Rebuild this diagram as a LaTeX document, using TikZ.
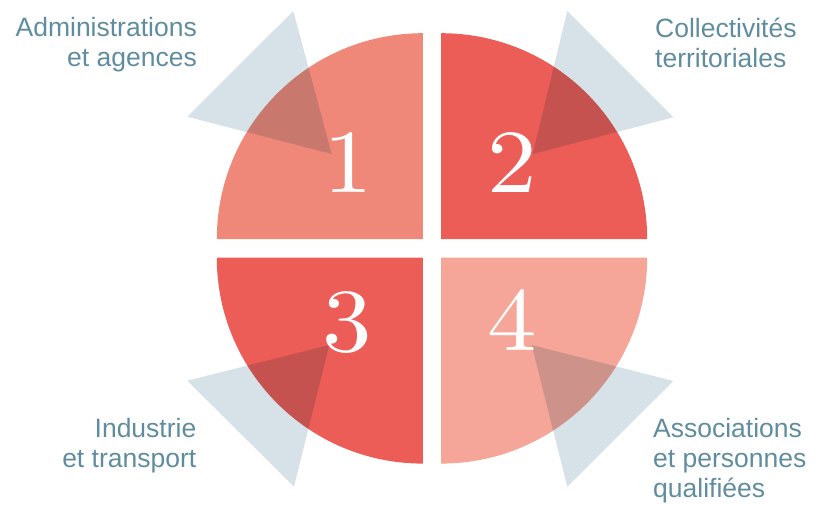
\documentclass[tikz,border=0pt]{standalone}
\usepackage{fontspec}
\newfontfamily\labelfont{Liberation Sans}
\newfontfamily\numfont{lmroman10-regular}[Extension=.otf, FakeStretch=1.1]
\definecolor{salmon}{HTML}{F0887A}
\definecolor{coral}{HTML}{EC5D57}
\definecolor{blush}{HTML}{F5A698}
\definecolor{wedgeblue}{HTML}{D6E1E8}
\definecolor{labelteal}{HTML}{5F8D9F}
\begin{document}
\begin{tikzpicture}[x=1pt,y=1pt,
  wedge/.style={fill=wedgeblue},
  numeral/.style={text=white, font=\numfont\fontsize{90}{90}\selectfont, inner sep=0pt, anchor=base},
  caption/.style={text=labelteal, font=\labelfont\fontsize{26.5}{30}\selectfont, inner sep=0pt}]
\useasboundingbox (0,0) rectangle (814,504);
\coordinate (c) at (432,255.6);

% four quarter discs, separated by a white cross
\fill[salmon] (422.8,264.8) -- ++(-206,0) arc[start angle=180, end angle=90, radius=206] -- cycle;
\fill[coral]  (441.2,264.8) -- ++(206,0)  arc[start angle=0, end angle=90, radius=206] -- cycle;
\fill[coral]  (422.8,246.4) -- ++(-206,0) arc[start angle=180, end angle=270, radius=206] -- cycle;
\fill[blush]  (441.2,246.4) -- ++(206,0)  arc[start angle=0, end angle=-90, radius=206] -- cycle;

% pointer wedges, multiplied over the discs
\begin{scope}[shift={(c)}, blend mode=multiply]
  \fill[wedge] (-100.3,94.4)  -- (-138.7,237.4) -- (-244.7,131.7) -- cycle;
  \fill[wedge] (100.7,94.4)   -- (135.3,237.4)  -- (241.3,131.1)  -- cycle;
  \fill[wedge] (-102.7,-96.6) -- (-138,-238.3)  -- (-244.7,-132.3) -- cycle;
  \fill[wedge] (99.7,-96.6)   -- (135.3,-238.3) -- (241.3,-132.6) -- cycle;
\end{scope}

% numerals
\node[numeral] (n1) at (348,311) {1};
\node[numeral] (n2) at (512,311) {2};
\node[numeral] (n3) at (347,152.5) {3};
\node[numeral] (n4) at (512,154) {4};

% captions
\node[caption, anchor=base east] (l1) at (197,467)
  {\begin{tabular}[t]{@{}r@{}}Administrations\\ et agences\end{tabular}};
\node[caption, anchor=base west] (l2) at (655,466.5)
  {\begin{tabular}[t]{@{}l@{}}Collectivités\\ territoriales\end{tabular}};
\node[caption, anchor=base east] (l3) at (196.5,67)
  {\begin{tabular}[t]{@{}r@{}}Industrie\\ et transport\end{tabular}};
\node[caption, anchor=base west] (l4) at (653,67)
  {\begin{tabular}[t]{@{}l@{}}Associations\\ et personnes\\ qualifiées\end{tabular}};
\end{tikzpicture}
\end{document}
